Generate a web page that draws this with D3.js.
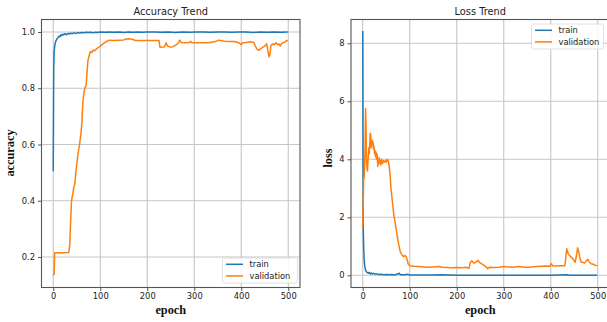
<!DOCTYPE html>
<html>
<head>
<meta charset="utf-8">
<script src="https://cdn.jsdelivr.net/npm/d3@7"></script>
<style>
  html, body { margin: 0; padding: 0; background: #fff; }
  svg { display: block; }
  .tick text { font-family: "DejaVu Sans", sans-serif; font-size: 8.3px; fill: #222; }
  .title { font-family: "DejaVu Sans", sans-serif; font-size: 9.8px; fill: #222; }
  .axlabel { font-family: "Liberation Serif", "Times New Roman", serif; font-weight: bold; font-size: 12.3px; fill: #111; }
  .legend text { font-family: "DejaVu Sans", sans-serif; font-size: 8.3px; fill: #222; }
</style>
</head>
<body>
<svg id="chart" width="607" height="322"></svg>
<script>
// ---- data: [epoch, value] ----
const epochTicks = [0, 100, 200, 300, 400, 500];
const accTicks = [0.2, 0.4, 0.6, 0.8, 1.0];
const lossTicks = [0, 2, 4, 6, 8];
const seriesNames = ["train", "validation"];

const accTrain = [
  [0,0.505],[1,0.87],[2,0.93],[3,0.95],[4,0.958],[5,0.965],[6,0.97],[7,0.972],[8,0.976],
  [10,0.98],[12,0.985],[14,0.983],[16,0.99],[18,0.987],[20,0.992],[22,0.99],[25,0.994],
  [28,0.99],[31,0.995],[34,0.993],[37,0.996],[40,0.994],[44,0.997],[48,0.995],[52,0.998],
  [56,0.996],[60,0.998],[65,0.997],[70,0.999],[75,0.998],[80,0.999],[85,0.997],[90,0.999],
  [95,0.998],[100,1.0],[110,0.999],[120,1.0],[130,0.999],[140,1.0],[150,0.998],[160,1.0],
  [170,0.999],[180,1.0],[190,0.999],[200,1.0],[215,1.0],[230,0.999],[245,1.0],[260,0.998],
  [275,1.0],[290,0.999],[305,1.0],[320,1.0],[335,0.999],[350,1.0],[365,1.0],[380,0.999],
  [395,1.0],[410,1.0],[425,0.998],[440,1.0],[455,0.999],[470,1.0],[485,0.999],[499,1.0]
];

const accVal = [
  [0,0.135],[2,0.14],[3,0.215],[10,0.215],[20,0.215],[33,0.216],[35,0.24],[37,0.33],[39,0.4],
  [42,0.43],[44,0.45],[46,0.46],[48,0.5],[50,0.53],[53,0.57],[56,0.6],[59,0.64],[61,0.68],
  [63,0.75],[65,0.78],[67,0.8],[70,0.81],[72,0.86],[74,0.9],[77,0.92],[79,0.93],[82,0.928],
  [85,0.935],[88,0.933],[92,0.94],[96,0.945],[100,0.95],[105,0.957],[110,0.963],[115,0.968],
  [120,0.971],[130,0.97],[140,0.971],[150,0.972],[155,0.975],[160,0.976],[168,0.974],
  [175,0.97],[190,0.97],[210,0.97],[225,0.97],[227,0.946],[233,0.947],[237,0.948],[240,0.962],
  [243,0.95],[248,0.947],[255,0.948],[262,0.955],[266,0.96],[269,0.971],[272,0.963],
  [280,0.962],[290,0.963],[292,0.967],[295,0.962],[310,0.962],[330,0.962],[345,0.966],
  [352,0.971],[358,0.969],[365,0.967],[375,0.966],[385,0.966],[395,0.962],[400,0.955],
  [403,0.962],[410,0.963],[420,0.965],[427,0.963],[430,0.95],[433,0.94],[437,0.935],
  [441,0.94],[445,0.945],[450,0.95],[454,0.958],[457,0.93],[459,0.912],[461,0.92],[463,0.95],
  [467,0.958],[470,0.955],[474,0.962],[477,0.955],[480,0.958],[483,0.95],[486,0.96],
  [490,0.963],[494,0.965],[496,0.97],[499,0.968]
];

const lossTrain = [
  [0,8.42],[1,1.65],[2,0.9],[3,0.55],[4,0.35],[5,0.25],[6,0.18],[8,0.12],[10,0.09],[12,0.07],
  [14,0.1],[16,0.05],[18,0.08],[20,0.05],[23,0.07],[26,0.04],[30,0.05],[35,0.03],[40,0.04],
  [45,0.02],[50,0.03],[55,0.02],[60,0.03],[65,0.02],[70,0.02],[78,0.07],[80,0.02],[90,0.02],
  [95,0.04],[100,0.01],[120,0.01],[150,0.01],[170,0.02],[200,0.005],[250,0.005],[300,0.005],
  [350,0.005],[400,0.005],[435,0.02],[440,0.005],[499,0.005]
];

const lossVal = [
  [0,1.65],[1,2.5],[2,3.4],[3,3.35],[4,3.7],[5,4.4],[6,5.75],[7,5.1],[8,4.0],[9,3.7],[10,3.6],
  [11,3.9],[12,4.1],[13,4.4],[14,4.2],[15,4.6],[16,4.9],[17,4.8],[18,4.4],[19,4.5],[20,4.65],
  [21,4.5],[22,4.6],[23,4.35],[24,4.45],[25,4.2],[26,4.3],[27,4.1],[28,4.25],[29,4.0],[30,4.2],
  [31,4.1],[32,3.75],[33,3.95],[34,3.85],[35,4.05],[36,3.9],[37,3.95],[38,3.8],[39,3.9],
  [40,4.0],[42,3.85],[44,3.95],[46,3.9],[48,3.95],[50,3.9],[52,4.0],[54,3.95],[56,3.8],
  [58,3.5],[60,3.0],[62,2.7],[64,2.4],[66,2.1],[68,1.9],[70,1.7],[72,1.5],[74,1.3],[76,1.1],
  [78,0.95],[80,0.8],[83,0.72],[86,0.65],[90,0.68],[93,0.62],[95,0.5],[97,0.38],[100,0.33],
  [110,0.31],[120,0.3],[130,0.29],[140,0.28],[150,0.29],[160,0.3],[170,0.28],[180,0.27],
  [190,0.26],[200,0.27],[210,0.26],[220,0.28],[226,0.24],[229,0.45],[232,0.5],[236,0.42],
  [240,0.44],[245,0.52],[248,0.45],[255,0.38],[262,0.3],[266,0.23],[270,0.28],[280,0.27],
  [290,0.28],[300,0.3],[310,0.29],[320,0.28],[330,0.3],[340,0.29],[350,0.28],[360,0.29],
  [370,0.3],[380,0.31],[390,0.32],[398,0.31],[401,0.4],[404,0.33],[410,0.32],[420,0.33],
  [430,0.33],[432,0.6],[434,0.92],[437,0.75],[440,0.68],[444,0.62],[448,0.55],[452,0.45],
  [455,0.7],[457,0.95],[459,0.85],[462,0.6],[465,0.45],[468,0.45],[472,0.42],[476,0.5],
  [479,0.55],[482,0.45],[486,0.4],[490,0.38],[494,0.35],[499,0.33]
];

const colors = { train: "#1f77b4", validation: "#ff7f0e" };

const svg = d3.select("#chart");

function panel(opts) {
  const x = d3.scaleLinear().domain([-25, 525]).range([opts.left, opts.right]);
  const y = d3.scaleLinear().domain(opts.yDomain).range([opts.bottom, opts.top]);
  const g = svg.append("g");

  // grid
  g.append("g").selectAll("line.gx").data(epochTicks).join("line")
    .attr("x1", d => x(d)).attr("x2", d => x(d))
    .attr("y1", opts.top).attr("y2", opts.bottom)
    .attr("stroke", "#c6c6c6").attr("stroke-width", 1.1);
  g.append("g").selectAll("line.gy").data(opts.yTicks).join("line")
    .attr("x1", opts.left).attr("x2", opts.right)
    .attr("y1", d => y(d)).attr("y2", d => y(d))
    .attr("stroke", "#c6c6c6").attr("stroke-width", 1.1);

  // series
  const line = d3.line().x(d => x(d[0])).y(d => y(d[1]));
  opts.series.forEach((s, i) => {
    g.append("path").datum(s)
      .attr("fill", "none")
      .attr("stroke", colors[seriesNames[i]])
      .attr("stroke-width", 1.5)
      .attr("stroke-linejoin", "round")
      .attr("d", line);
  });

  // frame
  g.append("rect")
    .attr("x", opts.left).attr("y", opts.top)
    .attr("width", opts.right - opts.left).attr("height", opts.bottom - opts.top)
    .attr("fill", "none").attr("stroke", "#555").attr("stroke-width", 1.1);

  // axes
  const ax = g.append("g").attr("transform", `translate(0,${opts.bottom})`)
    .call(d3.axisBottom(x).tickValues(epochTicks).tickSize(3.5).tickPadding(2.5));
  ax.select(".domain").remove();
  ax.selectAll(".tick line").attr("stroke", "#555");

  const ay = g.append("g").attr("transform", `translate(${opts.left},0)`)
    .call(d3.axisLeft(y).tickValues(opts.yTicks).tickFormat(opts.yFormat).tickSize(3.5).tickPadding(3));
  ay.select(".domain").remove();
  ay.selectAll(".tick line").attr("stroke", "#555");

  // labels
  const cx = (opts.left + opts.right) / 2;
  g.append("text").attr("class", "title")
    .attr("x", cx).attr("y", 15).attr("text-anchor", "middle").text(opts.title);
  g.append("text").attr("class", "axlabel")
    .attr("x", cx).attr("y", 313.5).attr("text-anchor", "middle").text("epoch");
  g.append("text").attr("class", "axlabel")
    .attr("transform", `translate(${opts.yLabelX},${opts.yLabelY}) rotate(-90)`)
    .attr("text-anchor", "middle").text(opts.yLabel);

  // legend
  const lg = g.append("g").attr("class", "legend");
  lg.append("rect")
    .attr("x", opts.legend.x).attr("y", opts.legend.y)
    .attr("width", opts.legend.w).attr("height", opts.legend.h)
    .attr("rx", 2).attr("fill", "#fff").attr("fill-opacity", 0.85)
    .attr("stroke", "#d9d9d9").attr("stroke-width", 0.8);
  seriesNames.forEach((name, i) => {
    const ly = opts.legend.y + 6.3 + i * 11.6;
    lg.append("line")
      .attr("x1", opts.legend.x + 3.5).attr("x2", opts.legend.x + 20.5)
      .attr("y1", ly).attr("y2", ly)
      .attr("stroke", colors[name]).attr("stroke-width", 1.5);
    lg.append("text")
      .attr("x", opts.legend.x + 27).attr("y", ly + 3).text(name);
  });
}

panel({
  left: 41.5, right: 300, top: 19.5, bottom: 287.5,
  yDomain: [0.0915, 1.0445], yTicks: accTicks, yFormat: d3.format(".1f"),
  series: [accTrain, accVal], title: "Accuracy Trend", yLabel: "accuracy",
  yLabelX: 14, yLabelY: 153,
  legend: { x: 222.5, y: 258, w: 75, h: 25 }
});

panel({
  left: 351, right: 609.5, top: 19.5, bottom: 287.5,
  yDomain: [-0.42, 8.82], yTicks: lossTicks, yFormat: d3.format("d"),
  series: [lossTrain, lossVal], title: "Loss Trend", yLabel: "loss",
  yLabelX: 332, yLabelY: 158,
  legend: { x: 531.5, y: 24, w: 72, h: 25 }
});
</script>
</body>
</html>
